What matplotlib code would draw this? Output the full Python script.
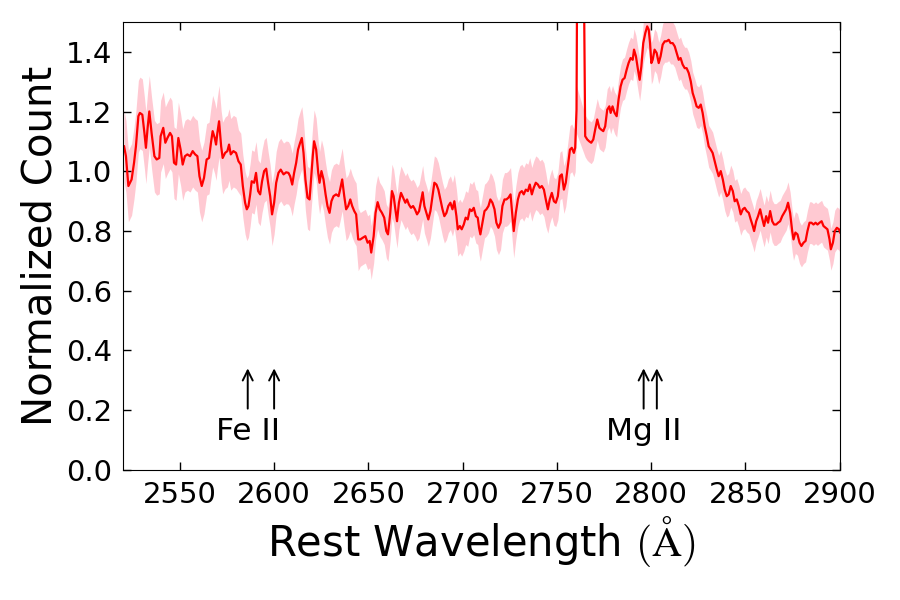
import numpy as np
import matplotlib
matplotlib.use("Agg")
import matplotlib.pyplot as plt

plt.rcParams['font.family'] = ['DejaVu Sans']
plt.rcParams['mathtext.fontset'] = 'cm'

# spectrum, split in pieces so each piece has its own error width
wave_a = [2520.4, 2521.4, 2522.7, 2524.4, 2525.7, 2526.7, 2528.0, 2528.8, 2530.1, 2531.2,
          2532.0, 2532.9, 2533.8, 2535.0, 2536.5, 2537.7, 2539.1, 2539.8, 2541.2, 2542.3,
          2543.4, 2544.8, 2545.8, 2546.9, 2548.0, 2549.2, 2550.4, 2551.5, 2552.7, 2554.0,
          2555.4, 2556.8, 2558.1, 2559.3, 2560.4, 2561.6, 2562.8, 2564.2, 2565.5, 2566.5,
          2567.4, 2568.5, 2569.2, 2569.9, 2570.8, 2571.9, 2572.7, 2574.0, 2575.2, 2576.1,
          2577.0, 2578.4, 2579.8]
flux_a = [1.084, 1.051, 0.951, 0.973, 1.029, 1.084, 1.185, 1.196, 1.190, 1.129,
          1.079, 1.146, 1.201, 1.129, 1.051, 1.040, 1.045, 1.118, 1.146, 1.096,
          1.112, 1.129, 1.118, 1.029, 1.023, 1.112, 1.073, 1.023, 1.051, 1.057,
          1.051, 1.068, 1.057, 1.051, 0.984, 0.951, 0.978, 1.040, 1.045, 1.096,
          1.135, 1.112, 1.090, 1.129, 1.168, 1.084, 1.045, 1.062, 1.068, 1.090,
          1.057, 1.068, 1.062]
err_a = 0.12

wave_b = [2581.1, 2582.3, 2583.4, 2584.6, 2585.5, 2586.4, 2587.3, 2588.1, 2589.4, 2590.4,
          2591.5, 2592.6, 2593.6, 2594.7, 2595.8, 2596.8, 2597.9, 2598.9, 2600.0, 2601.1,
          2602.3, 2603.5, 2605.0, 2606.4, 2607.6, 2608.5, 2609.6, 2610.6, 2611.7, 2612.7,
          2613.8, 2614.7, 2615.6, 2616.6, 2617.7, 2618.8, 2619.6, 2620.5, 2621.2, 2622.3,
          2623.4, 2624.1, 2625.1, 2626.2, 2627.3, 2628.3, 2629.4, 2630.4, 2631.5, 2632.9,
          2634.2, 2635.0, 2636.1, 2637.2, 2638.2, 2639.3, 2640.4, 2641.4, 2642.5, 2643.5,
          2644.6]
flux_b = [1.034, 1.023, 0.951, 0.895, 0.873, 0.884, 0.923, 0.967, 0.962, 0.995,
          0.934, 0.923, 0.967, 1.001, 1.009, 0.962, 0.917, 0.856, 0.895, 0.962,
          0.995, 1.006, 0.990, 0.997, 0.995, 0.984, 0.956, 0.995, 1.029, 1.073,
          1.096, 1.112, 1.062, 0.973, 0.912, 0.906, 0.973, 1.051, 1.101, 1.073,
          0.995, 0.962, 1.001, 0.973, 0.923, 0.884, 0.861, 0.900, 0.917, 0.923,
          0.917, 0.939, 0.973, 0.917, 0.873, 0.884, 0.906, 0.884, 0.867, 0.856,
          0.772]
err_b = 0.105

wave_c = [2645.7, 2647.1, 2648.4, 2649.6, 2650.7, 2651.5, 2652.8, 2653.8, 2654.9, 2656.0,
          2657.2, 2658.4, 2659.5, 2660.4, 2661.6, 2662.5, 2663.4, 2664.3, 2665.2, 2666.2,
          2667.3, 2668.4, 2669.6, 2670.5, 2671.5, 2672.6, 2673.7, 2674.7, 2675.8, 2676.9,
          2677.9, 2678.8, 2679.7, 2680.8, 2681.8, 2682.9, 2683.9, 2685.0, 2686.1, 2687.1,
          2688.2, 2689.3, 2690.3, 2691.4, 2692.4, 2693.5, 2694.6, 2695.6, 2696.7, 2697.4,
          2698.5, 2699.5, 2700.6, 2701.6, 2702.7, 2703.8, 2704.8, 2705.9, 2707.0, 2708.0,
          2708.7, 2709.4, 2710.5, 2711.6, 2712.6, 2713.7, 2714.7, 2715.8, 2716.9, 2717.9,
          2719.0, 2720.1, 2721.1, 2722.2, 2723.2, 2724.3, 2725.4, 2726.4, 2727.1, 2728.2,
          2729.3, 2730.3, 2731.4, 2732.4, 2733.5, 2734.6, 2735.6, 2736.7, 2737.7, 2738.8,
          2739.9, 2740.9, 2742.0, 2743.1, 2744.1]
flux_c = [0.772, 0.778, 0.783, 0.761, 0.767, 0.728, 0.783, 0.861, 0.897, 0.873,
          0.861, 0.845, 0.800, 0.789, 0.861, 0.934, 0.917, 0.873, 0.833, 0.895,
          0.928, 0.912, 0.895, 0.906, 0.889, 0.878, 0.884, 0.873, 0.856, 0.867,
          0.900, 0.930, 0.884, 0.861, 0.839, 0.867, 0.912, 0.962, 0.956, 0.939,
          0.906, 0.873, 0.850, 0.861, 0.884, 0.895, 0.873, 0.900, 0.850, 0.806,
          0.817, 0.806, 0.822, 0.845, 0.839, 0.873, 0.867, 0.878, 0.850, 0.845,
          0.811, 0.789, 0.828, 0.867, 0.873, 0.884, 0.906, 0.895, 0.873, 0.828,
          0.811, 0.828, 0.884, 0.906, 0.906, 0.912, 0.923, 0.850, 0.800, 0.861,
          0.906, 0.928, 0.934, 0.923, 0.939, 0.934, 0.956, 0.923, 0.945, 0.962,
          0.956, 0.945, 0.951, 0.939, 0.906]
err_c = 0.09

wave_d = [2745.2, 2746.2, 2747.3, 2748.4, 2749.4, 2750.5, 2751.6, 2752.6, 2753.7, 2754.7,
          2755.8, 2756.9, 2757.9, 2759.0, 2759.7, 2760.4]
flux_d = [0.873, 0.906, 0.928, 0.900, 0.895, 0.917, 0.984, 0.990, 0.939, 0.962,
          1.017, 1.073, 1.079, 1.062, 1.079, 1.207]
err_d = 0.08

# narrow spike near 2762 A, runs off the top of the axes
spike_wave = [2761.2, 2762.4, 2763.6]
spike_flux = [2.3, 2.6, 2.2]

wave_e = [2765.0, 2766.1, 2767.1, 2768.2, 2769.3, 2770.3, 2771.4, 2772.5, 2773.5, 2774.6,
          2775.6, 2776.7, 2777.8, 2778.5, 2779.5, 2780.6, 2781.7, 2782.7, 2783.8, 2784.8,
          2785.9, 2787.0, 2788.0, 2789.1, 2790.2, 2790.9, 2791.9, 2793.0, 2793.9, 2794.8,
          2795.8, 2796.9, 2797.9, 2798.7, 2799.4, 2800.1, 2800.8, 2801.8, 2802.9, 2804.0,
          2805.0, 2806.1, 2807.2, 2808.2, 2809.3, 2810.3, 2811.4, 2812.5, 2813.5, 2814.6,
          2815.6, 2816.7, 2817.8, 2818.8, 2819.9, 2821.0, 2822.0, 2823.1, 2824.1, 2825.2,
          2826.3, 2827.3, 2828.4, 2829.5]
flux_e = [1.118, 1.107, 1.101, 1.096, 1.107, 1.140, 1.174, 1.146, 1.140, 1.135,
          1.151, 1.207, 1.218, 1.196, 1.218, 1.196, 1.185, 1.241, 1.285, 1.307,
          1.313, 1.341, 1.363, 1.380, 1.374, 1.408, 1.386, 1.341, 1.307, 1.352,
          1.430, 1.464, 1.486, 1.475, 1.430, 1.363, 1.374, 1.408, 1.397, 1.363,
          1.386, 1.425, 1.436, 1.436, 1.441, 1.430, 1.430, 1.419, 1.397, 1.374,
          1.380, 1.358, 1.346, 1.346, 1.330, 1.302, 1.263, 1.241, 1.218, 1.213,
          1.224, 1.196, 1.151, 1.118]
err_e = 0.07

wave_f = [2830.5, 2831.6, 2832.6, 2833.7, 2834.8, 2835.8, 2836.9, 2838.0, 2839.0, 2840.1,
          2841.1, 2842.2, 2843.3, 2844.3, 2845.4, 2846.5, 2847.5, 2848.6, 2849.6, 2850.7,
          2851.8, 2852.8, 2853.9, 2854.6, 2855.7, 2856.7, 2857.8, 2858.8, 2859.9, 2861.0,
          2862.0, 2863.1, 2864.2, 2865.2, 2866.3, 2867.3, 2868.4, 2869.5, 2870.5, 2871.6,
          2872.6, 2873.7, 2874.8, 2875.5, 2876.5, 2877.6, 2878.7, 2879.7, 2880.8, 2881.9,
          2882.9, 2884.0, 2885.0, 2886.1, 2887.2, 2888.2, 2889.3, 2890.4, 2891.4, 2892.5,
          2893.5, 2894.6, 2895.3, 2896.4, 2897.4, 2898.5, 2899.6, 2900.3]
flux_f = [1.084, 1.073, 1.062, 1.034, 1.006, 0.984, 1.001, 0.973, 0.939, 0.917,
          0.923, 0.951, 0.934, 0.900, 0.906, 0.884, 0.856, 0.873, 0.878, 0.867,
          0.861, 0.839, 0.817, 0.800, 0.833, 0.850, 0.873, 0.845, 0.817, 0.850,
          0.828, 0.867, 0.833, 0.822, 0.822, 0.828, 0.833, 0.850, 0.861, 0.873,
          0.895, 0.861, 0.800, 0.772, 0.795, 0.789, 0.761, 0.750, 0.761, 0.767,
          0.800, 0.828, 0.828, 0.822, 0.828, 0.822, 0.828, 0.833, 0.817, 0.811,
          0.806, 0.772, 0.739, 0.761, 0.800, 0.811, 0.806, 0.795]
err_f = 0.07

fe_lines = [2586, 2600]
mg_lines = [2796, 2803]

pieces = [(wave_a, flux_a, err_a), (wave_b, flux_b, err_b), (wave_c, flux_c, err_c),
          (wave_d, flux_d, err_d), (wave_e, flux_e, err_e), (wave_f, flux_f, err_f)]

band_w = np.concatenate([np.array(w) for w, f, e in pieces])
band_f = np.concatenate([np.array(f) for w, f, e in pieces])
band_e = np.concatenate([np.full(len(w), e) for w, f, e in pieces])

line_w = np.concatenate([wave_a, wave_b, wave_c, wave_d, spike_wave, wave_e, wave_f])
line_f = np.concatenate([flux_a, flux_b, flux_c, flux_d, spike_flux, flux_e, flux_f])

fig = plt.figure(figsize=(9, 6), dpi=100)
ax = fig.add_axes([0.137, 0.217, 0.796, 0.746])

ax.fill_between(band_w, band_f - band_e, band_f + band_e, color='pink', lw=0, alpha=0.85)
ax.plot(line_w, line_f, color='red', lw=1.6)

for lam in fe_lines + mg_lines:
    ax.annotate('', xy=(lam, 0.34), xytext=(lam, 0.205),
                arrowprops=dict(arrowstyle='->', lw=1.4, color='black',
                                mutation_scale=18, shrinkA=0, shrinkB=0))
ax.text(fe_lines[0], 0.1, 'Fe II', ha='center', va='baseline', fontsize=22.5)
ax.text(mg_lines[0], 0.1, 'Mg II', ha='center', va='baseline', fontsize=22.5)

ax.set_xlim(2520, 2900)
ax.set_ylim(0, 1.5)
ax.set_xticks([2550, 2600, 2650, 2700, 2750, 2800, 2850, 2900])
ax.set_yticks([0.0, 0.2, 0.4, 0.6, 0.8, 1.0, 1.2, 1.4])
ax.tick_params(direction='in', top=True, right=True, length=6, width=1, labelsize=21, pad=8)
ax.set_xlabel(r'Rest Wavelength $(\mathrm{\AA})$', fontsize=30)
ax.set_ylabel('Normalized Count', fontsize=29)

fig.savefig('out.png', dpi=100, facecolor='white')
